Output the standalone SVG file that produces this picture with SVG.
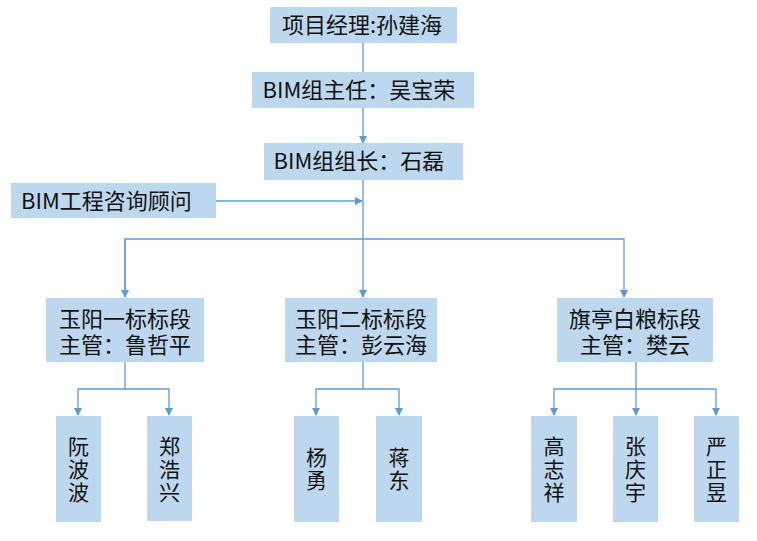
<svg xmlns="http://www.w3.org/2000/svg" width="757" height="541" viewBox="0 0 757 541">
<style>
.box{fill:#BDD7EE;}
.t{font-family:"Noto Sans CJK SC","Noto Sans",sans-serif;font-size:22px;fill:#111;}
.g{font-family:"Noto Sans CJK SC","Noto Sans",sans-serif;font-size:22px;fill:#111;text-anchor:middle;}
.v{font-family:"Noto Sans CJK SC","Noto Sans",sans-serif;font-size:21px;fill:#111;text-anchor:middle;writing-mode:vertical-rl;letter-spacing:2px;}
.c{fill:none;stroke:#5B9BD5;stroke-width:1.3;}
</style>
<defs>
<marker id="ah" markerWidth="8" markerHeight="8" refX="7" refY="4" orient="auto" markerUnits="userSpaceOnUse">
<path d="M0,0 L8,4 L0,8 Z" fill="#5B9BD5"/>
</marker>
</defs>
<rect width="757" height="541" fill="#fff"/>
<g id="connectors">
<path class="c" d="M363,43 V72"/>
<path class="c" d="M363,108 V143" marker-end="url(#ah)"/>
<path class="c" d="M363,180 V239"/>
<path class="c" d="M216,201 H362" marker-end="url(#ah)"/>
<path class="c" d="M125,297 V239 H624 V297" marker-end="url(#ah)"/>
<path class="c" d="M125,239 V297" marker-end="url(#ah)"/>
<path class="c" d="M363,239 V297" marker-end="url(#ah)"/>
<path class="c" d="M125,362 V389 H78 V415" marker-end="url(#ah)"/>
<path class="c" d="M125,389 H169 V415" marker-end="url(#ah)"/>
<path class="c" d="M363,362 V389 H316 V415" marker-end="url(#ah)"/>
<path class="c" d="M363,389 H399 V415" marker-end="url(#ah)"/>
<path class="c" d="M636,362 V389 H554 V415" marker-end="url(#ah)"/>
<path class="c" d="M636,389 V415" marker-end="url(#ah)"/>
<path class="c" d="M636,389 H716 V415" marker-end="url(#ah)"/>
</g>
<g id="pm"><rect class="box" x="270" y="7" width="187" height="36"/><text class="t" x="362" y="33" text-anchor="middle">项目经理:孙建海</text></g>
<g id="bim-director"><rect class="box" x="252" y="72" width="222" height="36"/><text class="t" x="359" y="98" text-anchor="middle">BIM组主任：吴宝荣</text></g>
<g id="bim-leader"><rect class="box" x="264" y="143" width="199" height="37"/><text class="t" x="359" y="169" text-anchor="middle">BIM组组长：石磊</text></g>
<g id="consultant"><rect class="box" x="11" y="183" width="205" height="35"/><text class="t" x="21" y="209">BIM工程咨询顾问</text></g>
<g id="sec1"><rect class="box" x="46" y="298" width="158" height="64"/><text class="g"><tspan x="125" y="327">玉阳一标标段</tspan><tspan x="125" y="353">主管：鲁哲平</tspan></text></g>
<g id="sec2"><rect class="box" x="285" y="298" width="152" height="64"/><text class="g"><tspan x="361" y="327">玉阳二标标段</tspan><tspan x="361" y="353">主管：彭云海</tspan></text></g>
<g id="sec3"><rect class="box" x="557" y="298" width="156" height="64"/><text class="g"><tspan x="635" y="327">旗亭白粮标段</tspan><tspan x="635" y="353">主管：樊云</tspan></text></g>
<g id="p1"><rect class="box" x="56" y="416" width="45" height="106"/><text class="v" x="78.5" y="470">阮波波</text></g>
<g id="p2"><rect class="box" x="147" y="416" width="45" height="105"/><text class="v" x="169.5" y="470">郑浩兴</text></g>
<g id="p3"><rect class="box" x="294" y="416" width="45" height="106"/><text class="v" x="316.5" y="470">杨勇</text></g>
<g id="p4"><rect class="box" x="376" y="416" width="46" height="106"/><text class="v" x="399" y="470">蒋东</text></g>
<g id="p5"><rect class="box" x="531" y="416" width="46" height="106"/><text class="v" x="554" y="470">高志祥</text></g>
<g id="p6"><rect class="box" x="613" y="416" width="45" height="106"/><text class="v" x="635.5" y="470">张庆宇</text></g>
<g id="p7"><rect class="box" x="694" y="416" width="45" height="106"/><text class="v" x="716.5" y="470">严正昱</text></g>
</svg>
